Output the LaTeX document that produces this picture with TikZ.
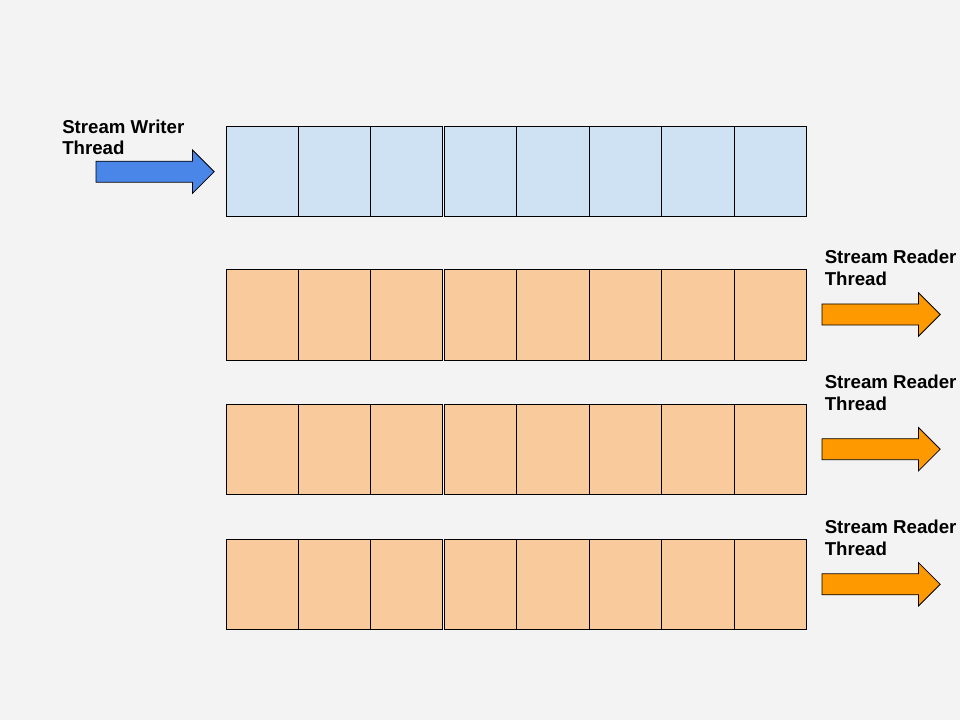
\documentclass[tikz,border=0pt]{standalone}
\usepackage{fontspec}
\setmainfont{Liberation Sans}
\definecolor{bggray}{HTML}{F3F3F3}
\definecolor{cellblue}{HTML}{CFE2F3}
\definecolor{cellorange}{HTML}{F9CB9C}
\definecolor{arrowblue}{HTML}{4A86E8}
\definecolor{arroworange}{HTML}{FF9900}
\tikzset{
  cell/.style={draw=black,line width=0.75pt},
  fatarrow/.style={draw=black,line width=0.6pt,line join=miter},
  threadlabel/.style={anchor=north west,inner sep=0pt,align=left,
    font=\fontsize{14}{16}\selectfont\bfseries,text=black}
}
% row of 8 cells: 3 in one box, 5 in the next
\newcommand{\bufferrow}[2]{%
  \foreach \i in {0,1,2}
    \draw[cell,fill=#2] (226.5+72*\i,#1) rectangle ++(72,90.5);
  \foreach \i in {0,...,4}
    \draw[cell,fill=#2] (444.5+72.4*\i,#1) rectangle ++(72.4,90.5);
}
% block arrow from x, centred on y
\newcommand{\blockarrow}[3]{%
  \draw[fatarrow,fill=#3] (#1,#2-10.5) -- ++(96.5,0) -- ++(0,-11.2)
    -- ++(21.7,21.7) -- ++(-21.7,21.7) -- ++(0,-11.2) -- ++(-96.5,0) -- cycle;
}
\begin{document}
\begin{tikzpicture}[x=0.75pt,y=-0.75pt]
  \fill[bggray] (0,0) rectangle (960,720);
  \useasboundingbox (0,0) rectangle (960,720);

  % writer buffer
  \bufferrow{126.5}{cellblue}
  \node[threadlabel] (writer) at (62,119.5) {Stream Writer\\Thread};
  \blockarrow{96}{171.7}{arrowblue}

  % reader buffers
  \bufferrow{269.5}{cellorange}
  \bufferrow{404}{cellorange}
  \bufferrow{539}{cellorange}
  \node[threadlabel] (reader1) at (824.5,250) {Stream Reader\\Thread};
  \node[threadlabel] (reader2) at (824.5,375) {Stream Reader\\Thread};
  \node[threadlabel] (reader3) at (824.5,520) {Stream Reader\\Thread};
  \blockarrow{822}{314.5}{arroworange}
  \blockarrow{822}{449.2}{arroworange}
  \blockarrow{822}{584.3}{arroworange}
\end{tikzpicture}
\end{document}
